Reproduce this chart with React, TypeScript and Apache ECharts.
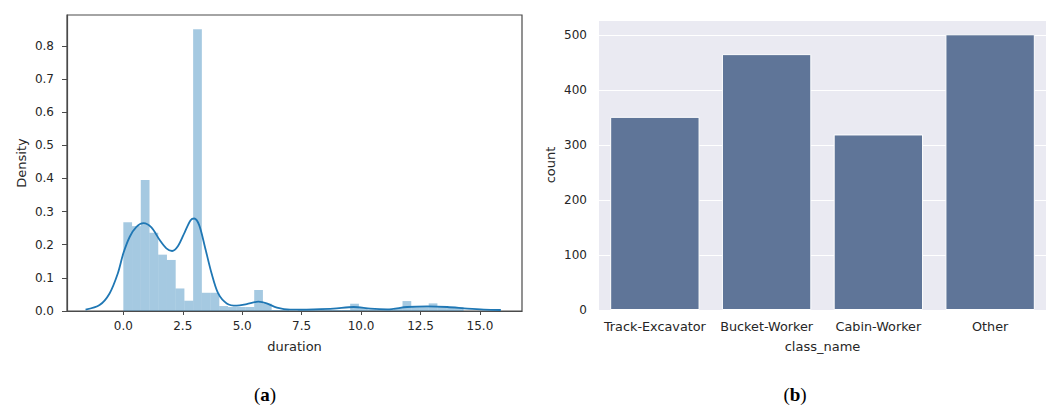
import React, { useEffect, useRef } from "react";
import * as echarts from "echarts";

// ---- (a) duration histogram (density) ----
const BIN_START = 0;
const BIN_WIDTH = 0.367;
const densities = [
  0.268, 0.256, 0.395, 0.236, 0.17, 0.154, 0.068, 0.031, 0.85, 0.055,
  0.055, 0.015, 0.012, 0.012, 0.012, 0.063, 0.022, 0.003, 0.003, 0,
  0.003, 0.006, 0.006, 0.003, 0.003, 0.003, 0.022, 0.008, 0.004, 0.003,
  0.003, 0.008, 0.03, 0.015, 0.015, 0.023, 0.012, 0.012, 0.012,
];

// KDE curve
const kdeX = [
  -1.59, -1.0, -0.58, -0.23, 0.0, 0.27, 0.55, 0.85, 1.18, 1.53, 1.81, 2.05,
  2.3, 2.59, 2.83, 2.98, 3.19, 3.43, 3.71, 3.99, 4.35, 4.77, 5.19, 5.68,
  6.03, 6.46, 7.02, 8.0, 8.84, 9.69, 10.39, 11.1, 11.94, 12.78, 13.63,
  14.47, 15.17, 15.88,
];
const kdeY = [
  0.004, 0.018, 0.053, 0.114, 0.174, 0.224, 0.254, 0.265, 0.252, 0.214,
  0.189, 0.181, 0.196, 0.239, 0.274, 0.279, 0.259, 0.194, 0.114, 0.053,
  0.023, 0.016, 0.021, 0.028, 0.023, 0.01, 0.004, 0.005, 0.007, 0.012,
  0.007, 0.005, 0.012, 0.014, 0.012, 0.007, 0.004, 0.003,
];

const durationTicks = [0, 2.5, 5, 7.5, 10, 12.5, 15];
const densityTicks = [0, 0.1, 0.2, 0.3, 0.4, 0.5, 0.6, 0.7, 0.8];

// ---- (b) class counts ----
const categories = ["Track-Excavator", "Bucket-Worker", "Cabin-Worker", "Other"];
const counts = [351, 465, 319, 501];
const countTicks = [0, 100, 200, 300, 400, 500];

export default function App() {
  const ref = useRef<HTMLDivElement>(null);

  useEffect(() => {
    if (!ref.current) return;
    const chart = echarts.init(ref.current, undefined, { renderer: "svg" });

    const histData = densities.map((d, i) => [
      BIN_START + i * BIN_WIDTH,
      BIN_START + (i + 1) * BIN_WIDTH,
      d,
    ]);
    const kdeData = kdeX.map((x, i) => [x, kdeY[i]]);

    const font = "DejaVu Sans";
    const txt = "#262626";
    const spine = "#4a4a4a";
    const capRich = {
      n: { fontFamily: "Liberation Serif", fontSize: 19, fill: "#000" },
      b: { fontFamily: "Liberation Serif", fontSize: 19, fontWeight: "bold", fill: "#000" },
    };

    chart.setOption({
      animation: false,
      grid: [
        {
          left: 67,
          top: 15,
          width: 455,
          height: 296,
          show: true,
          borderColor: spine,
          borderWidth: 1.2,
          backgroundColor: "#ffffff",
        },
        {
          left: 599,
          top: 20,
          width: 447,
          height: 290,
          show: true,
          borderWidth: 0,
          backgroundColor: "#EAEAF2",
        },
      ],
      xAxis: [
        {
          gridIndex: 0,
          type: "value",
          min: -2.37,
          max: 16.77,
          name: "duration",
          nameLocation: "middle",
          nameGap: 29,
          nameTextStyle: { fontFamily: font, fontSize: 13, color: txt },
          axisLine: { show: true, onZero: false, lineStyle: { color: spine, width: 1.2 } },
          axisTick: {
            show: true,
            length: 4,
            customValues: durationTicks,
            lineStyle: { color: spine, width: 1 },
          },
          axisLabel: {
            customValues: durationTicks,
            formatter: (v: number) => v.toFixed(1),
            fontFamily: font,
            fontSize: 12,
            color: txt,
            margin: 9,
          },
          splitLine: { show: false },
        },
        {
          gridIndex: 1,
          type: "category",
          data: categories,
          name: "class_name",
          nameLocation: "middle",
          nameGap: 30,
          nameTextStyle: { fontFamily: font, fontSize: 13, color: txt },
          axisLine: { show: false },
          axisTick: { show: false },
          axisLabel: {
            fontFamily: font,
            fontSize: 12.8,
            color: txt,
            margin: 10,
            interval: 0,
          },
          splitLine: { show: false },
        },
      ],
      yAxis: [
        {
          gridIndex: 0,
          type: "value",
          min: 0,
          max: 0.893,
          name: "Density",
          nameLocation: "middle",
          nameGap: 39,
          nameRotate: 90,
          nameTextStyle: { fontFamily: font, fontSize: 13, color: txt },
          axisLine: { show: true, onZero: false, lineStyle: { color: spine, width: 1.2 } },
          axisTick: {
            show: true,
            length: 5,
            customValues: densityTicks,
            lineStyle: { color: spine, width: 1 },
          },
          axisLabel: {
            customValues: densityTicks,
            formatter: (v: number) => v.toFixed(1),
            fontFamily: font,
            fontSize: 12,
            color: txt,
            margin: 13,
          },
          splitLine: { show: false },
        },
        {
          gridIndex: 1,
          type: "value",
          min: 0,
          max: 527,
          name: "count",
          nameLocation: "middle",
          nameGap: 42,
          nameRotate: 90,
          nameTextStyle: { fontFamily: font, fontSize: 13, color: txt },
          axisLine: { show: false },
          axisTick: { show: false },
          axisLabel: {
            customValues: countTicks,
            fontFamily: font,
            fontSize: 12,
            color: txt,
            margin: 12,
          },
          splitLine: {
            show: true,
            customValues: countTicks,
            lineStyle: { color: "#ffffff", width: 1.2 },
          },
        },
      ],
      series: [
        {
          type: "custom",
          xAxisIndex: 0,
          yAxisIndex: 0,
          data: histData,
          encode: { x: [0, 1], y: 2 },
          z: 2,
          renderItem: (params: any, api: any) => {
            const x0 = api.value(0);
            const x1 = api.value(1);
            const h = api.value(2);
            const p0 = api.coord([x0, h]);
            const p1 = api.coord([x1, 0]);
            return {
              type: "rect",
              shape: { x: p0[0], y: p0[1], width: p1[0] - p0[0], height: p1[1] - p0[1] },
              style: { fill: "rgba(31,119,180,0.4)" },
            };
          },
        },
        {
          type: "line",
          xAxisIndex: 0,
          yAxisIndex: 0,
          data: kdeData,
          smooth: 0.3,
          showSymbol: false,
          z: 3,
          lineStyle: { color: "#1f77b4", width: 1.8 },
        },
        {
          type: "bar",
          xAxisIndex: 1,
          yAxisIndex: 1,
          data: counts,
          barWidth: "80%",
          itemStyle: { color: "#5f7598", borderColor: "#ffffff", borderWidth: 1 },
        },
      ],
      graphic: [
        {
          type: "text",
          x: 265,
          y: 394,
          style: {
            text: "{n|(}{b|a}{n|)}",
            align: "center",
            verticalAlign: "middle",
            rich: capRich,
          },
        },
        {
          type: "text",
          x: 795,
          y: 394,
          style: {
            text: "{n|(}{b|b}{n|)}",
            align: "center",
            verticalAlign: "middle",
            rich: capRich,
          },
        },
      ],
    });

    return () => chart.dispose();
  }, []);

  return (
    <div
      ref={ref}
      style={{ position: "fixed", left: 0, top: 0, width: 1051, height: 407, background: "#fff" }}
    />
  );
}
